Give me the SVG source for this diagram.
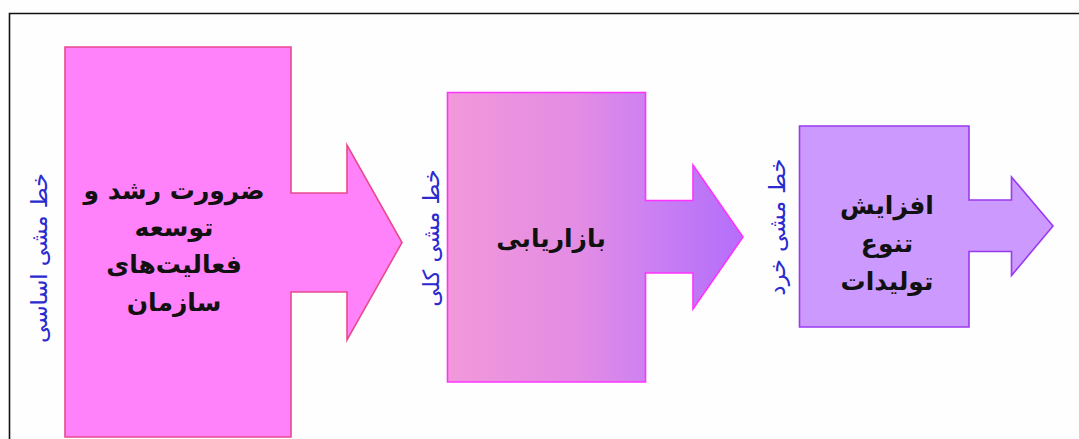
<svg xmlns="http://www.w3.org/2000/svg" width="1079" height="439" viewBox="0 0 1079 439">
<defs>
<linearGradient id="g2" gradientUnits="userSpaceOnUse" x1="447" y1="0" x2="743" y2="0">
<stop offset="0" stop-color="#F298DA"/>
<stop offset="0.45" stop-color="#E28CE4"/>
<stop offset="0.68" stop-color="#CC80F2"/>
<stop offset="1" stop-color="#B46EFA"/>
</linearGradient>
<style>
.lbl{font-family:"DejaVu Sans",sans-serif;font-weight:bold;font-size:25px;fill:#111;text-anchor:middle}
.side{font-family:"DejaVu Sans",sans-serif;font-size:22.5px;fill:#2A2AD0;text-anchor:middle}
</style>
</defs>
<rect x="0" y="0" width="1079" height="439" fill="#FEFEFE"/>
<path d="M9.5,440 V13.5 H1080" fill="none" stroke="#111" stroke-width="1.6"/>
<g id="node1">
<path d="M65,47 H291 V193 H347 V145 L402,242.5 L347,340 V292 H291 V437 H65 Z" fill="#FF82FA" stroke="#E84A8E" stroke-width="1.6"/>
<text class="lbl" x="174" y="199">ضرورت رشد و</text>
<text class="lbl" x="174" y="236">توسعه</text>
<text class="lbl" x="174" y="273">فعالیت‌های</text>
<text class="lbl" x="174" y="311">سازمان</text>
<text class="side" transform="translate(47,258) rotate(-90)">خط مشی اساسی</text>
</g>
<g id="node2">
<path d="M447.5,92.5 H645.5 V200.5 H693 V165 L743,237 L693,309 V273 H645.5 V382 H447.5 Z" fill="url(#g2)" stroke="#FF33FF" stroke-width="1.6"/>
<text class="lbl" x="551" y="247">بازاریابی</text>
<text class="side" transform="translate(439,238) rotate(-90)">خط مشی کلی</text>
</g>
<g id="node3">
<path d="M799.5,126 H969 V200 H1011.5 V177 L1053,226 L1011.5,275.5 V251.5 H969 V327 H799.5 Z" fill="#CC9AFF" stroke="#9A3AEE" stroke-width="1.6"/>
<text class="lbl" x="887" y="214">افزایش</text>
<text class="lbl" x="887" y="252">تنوع</text>
<text class="lbl" x="887" y="290">تولیدات</text>
<text class="side" transform="translate(785,227) rotate(-90)">خط مشی خرد</text>
</g>
<g id="connectors"></g>
</svg>
